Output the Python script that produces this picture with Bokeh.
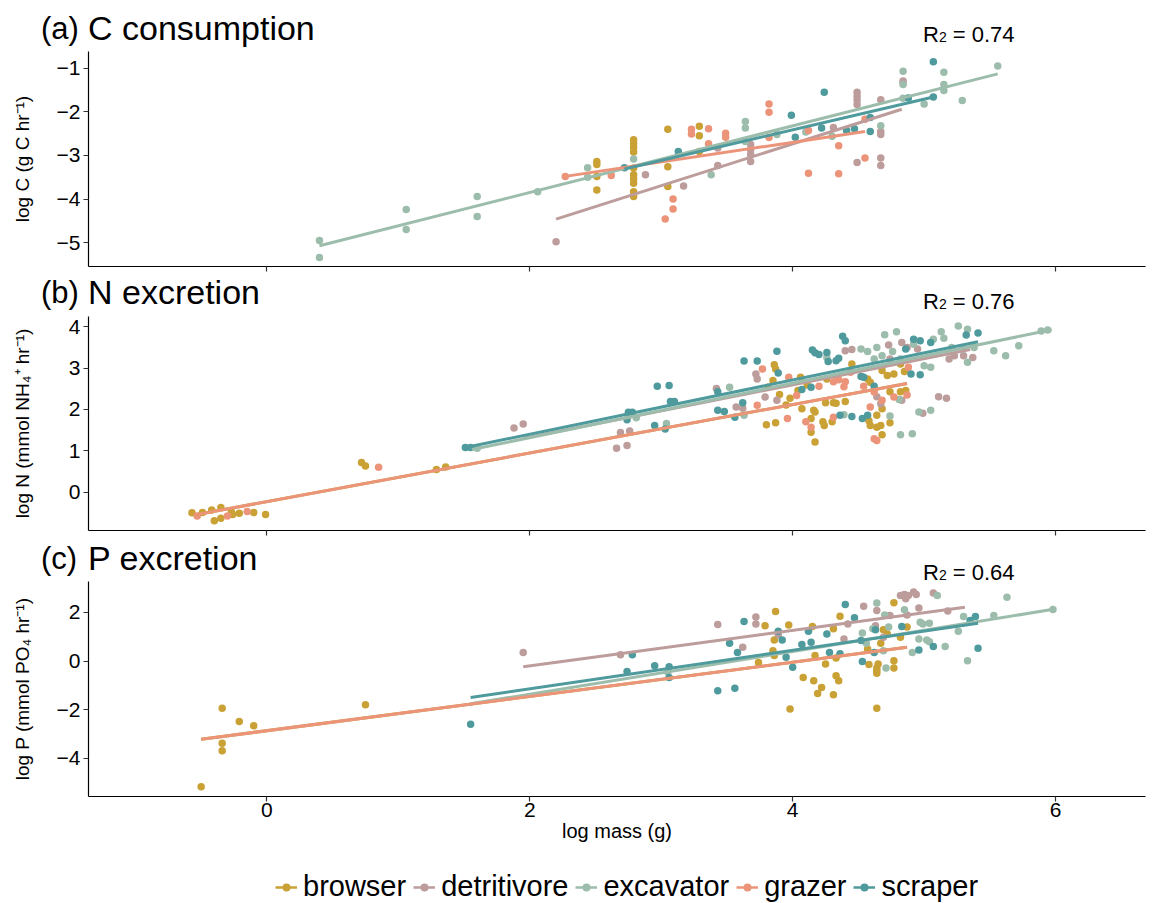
from bokeh.plotting import figure
from bokeh.layouts import column
from bokeh.models import Range1d, Legend, LegendItem, FixedTicker, Div
from bokeh.embed import file_html
from bokeh.resources import INLINE

FONT = "Liberation Sans"

groups = ["browser", "detritivore", "excavator", "grazer", "scraper"]
colors = ["#C9A135", "#BD9C9C", "#9DBDAC", "#EC9479", "#4F9A9D"]

x_ticks = [0, 2, 4, 6]
a_ticks = [-5, -4, -3, -2, -1]
b_ticks = [0, 1, 2, 3, 4]
c_ticks = [-4, -2, 0, 2]

# ---------------- panel (a) C consumption ----------------
a_browser_x = [2.51, 2.51, 2.51, 2.51, 2.79, 2.79, 2.79, 2.79, 2.79, 2.79, 2.79, 2.79, 2.79, 2.79,
               3.05, 3.05, 3.05, 3.29, 3.29, 3.29]
a_browser_y = [-3.14, -3.21, -3.48, -3.79, -2.64, -2.73, -2.82, -2.92, -3.29, -3.44, -3.54, -3.64, -3.83, -3.94,
               -2.40, -3.26, -3.71, -2.33, -2.55, -2.91]
a_detritivore_x = [2.20, 2.88, 3.17, 3.43, 3.43, 3.68, 3.68, 3.68, 3.68, 4.31, 4.49, 4.49, 4.49, 4.49, 4.49,
                   4.67, 4.67, 4.67, 4.67, 4.67, 4.84, 4.84]
a_detritivore_y = [-4.98, -3.44, -3.70, -2.83, -3.23, -2.75, -2.87, -2.98, -3.14, -2.36, -1.55, -1.64, -1.73, -1.83, -3.16,
                   -1.72, -2.45, -2.52, -3.06, -3.23, -1.29, -1.34]
a_excavator_x = [0.40, 0.40, 1.06, 1.06, 1.60, 1.60, 2.06, 2.44, 2.44, 2.79, 3.38, 3.64, 3.64, 3.64, 3.88, 4.10,
                 4.30, 4.67, 4.84, 4.84, 4.84, 5.00, 5.15, 5.15, 5.15, 5.29, 5.56]
a_excavator_y = [-4.95, -5.34, -4.24, -4.70, -3.94, -4.40, -3.83, -3.28, -3.50, -3.08, -3.44, -2.22, -2.37, -2.68, -2.52, -2.46,
                 -2.56, -2.32, -1.07, -1.37, -1.69, -1.82, -1.09, -1.37, -1.51, -1.74, -0.95]
a_grazer_x = [2.27, 2.62, 3.03, 3.09, 3.09, 3.23, 3.23, 3.36, 3.36, 3.49, 3.49, 3.82, 3.82, 3.82, 4.12, 4.12,
              4.35, 4.35, 4.55, 4.55]
a_grazer_y = [-3.48, -3.46, -4.46, -4.00, -4.23, -2.40, -2.51, -2.39, -2.73, -2.49, -2.58, -1.82, -2.01, -2.59, -2.43, -3.41,
              -2.78, -3.42, -2.17, -3.06]
a_scraper_x = [2.72, 3.13, 3.99, 4.02, 4.22, 4.24, 4.41, 4.47, 4.59, 4.59, 4.88, 5.07, 5.07]
a_scraper_y = [-3.28, -2.91, -2.08, -2.58, -2.37, -1.55, -2.43, -2.39, -2.13, -2.45, -1.68, -1.66, -0.85]

# fitted lines: start x, start y, end x, end y (None = no line)
a_line_x0 = [None, 2.20, 0.40, 2.27, 2.72]
a_line_y0 = [None, -4.46, -5.07, -3.48, -3.31]
a_line_x1 = [None, 4.83, 5.56, 4.55, 5.07]
a_line_y1 = [None, -1.94, -1.13, -2.45, -1.66]

# ---------------- panel (b) N excretion ----------------
b_browser_x = [-0.57, -0.49, -0.42, -0.40, -0.35, -0.35, -0.27, -0.26, -0.21, -0.10, -0.01, 0.72, 0.75, 1.29, 1.36,
               3.86, 3.87, 3.85, 3.81, 3.90, 3.98, 3.95, 4.06, 4.11, 4.04, 4.07, 4.16, 4.17, 4.14, 4.14, 4.17,
               4.25, 4.31, 4.33, 4.40, 4.23, 4.24, 4.30, 3.80, 3.87, 4.26, 4.34, 4.45, 4.57, 4.59, 4.68, 4.72,
               4.77, 4.82, 4.85, 4.86, 4.82, 4.74, 4.68, 4.64, 4.58, 4.59, 4.64, 4.68, 4.67, 4.74]
b_browser_y = [-0.50, -0.49, -0.43, -0.69, -0.37, -0.63, -0.47, -0.54, -0.51, -0.49, -0.54, 0.72, 0.63, 0.55, 0.61,
               3.08, 2.98, 2.70, 2.54, 2.36, 2.27, 2.11, 2.78, 2.59, 2.46, 2.02, 1.98, 1.94, 1.78, 1.45, 1.21,
               2.16, 2.16, 2.15, 2.19, 1.70, 1.61, 1.70, 1.63, 1.68, 2.74, 2.80, 3.10, 2.74, 2.66, 2.94, 2.82,
               2.86, 3.10, 2.92, 2.46, 2.43, 2.43, 2.02, 1.86, 1.73, 1.61, 1.57, 1.39, 1.61, 1.68]
b_detritivore_x = [1.88, 1.95, 2.66, 2.74, 2.69, 2.76, 3.42, 3.57, 3.62, 3.72, 3.73, 3.79, 3.88, 4.40, 4.45, 4.73,
                   4.83, 4.87, 4.74, 4.95, 5.19, 5.23, 5.30, 5.37, 5.11, 5.17, 4.64, 4.67, 4.83, 4.99]
b_detritivore_y = [1.55, 1.65, 1.06, 1.13, 1.44, 1.48, 2.51, 2.06, 2.03, 2.86, 2.74, 2.30, 2.22, 3.42, 3.45, 3.56,
                   3.62, 3.50, 3.22, 3.46, 3.22, 3.30, 3.30, 3.26, 2.31, 2.27, 2.31, 2.14, 2.22, 1.91]
b_excavator_x = [1.60, 2.81, 3.04, 3.52, 3.63, 4.26, 4.52, 4.57, 4.64, 4.70, 4.79, 4.62, 4.68, 4.82, 4.76, 4.92,
                 5.07, 5.15, 5.13, 5.26, 5.33, 5.21, 5.30, 5.38, 5.53, 5.33, 4.39, 4.74, 4.82, 4.91, 4.81, 4.96,
                 5.05, 5.00, 5.05, 5.62, 5.72, 5.89, 5.94]
b_excavator_y = [1.06, 1.80, 1.66, 2.54, 1.86, 3.26, 3.46, 3.40, 3.50, 3.81, 3.88, 3.22, 3.30, 3.22, 3.40, 3.58,
                 3.70, 3.72, 3.88, 4.02, 3.94, 3.50, 3.46, 3.50, 3.42, 3.14, 1.87, 1.84, 1.39, 1.41, 2.24, 1.94,
                 1.98, 3.06, 3.02, 3.30, 3.54, 3.90, 3.92]
b_grazer_x = [-0.53, -0.30, -0.15, 0.85, 3.77, 3.73, 3.97, 4.03, 3.96, 4.20, 4.10, 4.14, 4.31, 4.35, 4.40, 4.31,
              4.44, 4.54, 4.59, 4.62, 4.68, 4.62, 4.64, 4.77, 4.88, 4.87, 4.39]
b_grazer_y = [-0.58, -0.58, -0.47, 0.60, 2.98, 2.10, 2.78, 2.34, 1.78, 2.56, 1.70, 1.57, 2.67, 2.72, 2.67, 1.81,
              2.90, 2.56, 2.06, 2.42, 2.22, 1.29, 1.25, 2.30, 3.02, 2.35, 2.55]
b_scraper_x = [1.51, 1.55, 2.75, 2.78, 2.74, 2.97, 3.06, 3.07, 3.10, 2.95, 3.03, 3.43, 3.48, 3.43, 3.56, 3.63,
               3.73, 3.62, 3.88, 3.89, 4.15, 4.17, 4.20, 4.26, 4.27, 4.33, 4.35, 4.38, 4.40, 4.07, 4.14, 4.52,
               4.54, 4.45, 4.36, 4.53, 4.57, 4.92, 4.97, 4.86, 5.05, 4.90, 4.97, 5.32, 5.41, 4.62]
b_scraper_y = [1.08, 1.08, 1.93, 1.93, 1.75, 2.56, 2.58, 2.19, 2.19, 1.61, 1.53, 2.43, 1.95, 1.98, 1.81, 3.17,
               3.17, 2.16, 3.41, 2.88, 3.44, 3.37, 3.33, 3.38, 3.16, 3.18, 3.24, 3.77, 3.66, 2.48, 2.54, 2.80,
               2.78, 1.83, 1.86, 1.78, 1.86, 3.70, 3.66, 3.46, 3.62, 2.86, 2.84, 3.80, 3.85, 2.56]

b_line_x0 = [-0.53, 1.95, 1.56, -0.53, 1.51]
b_line_y0 = [-0.54, 1.30, 1.03, -0.54, 1.08]
b_line_x1 = [4.87, 5.35, 5.97, 4.87, 5.41]
b_line_y1 = [2.63, 3.45, 3.93, 2.63, 3.64]

# ---------------- panel (c) P excretion ----------------
c_browser_x = [-0.50, -0.34, -0.34, -0.34, -0.21, -0.10, 0.75, 3.87, 3.79, 3.97, 3.86, 3.85, 3.86, 3.74, 4.08,
               4.16, 4.22, 4.19, 3.98, 4.15, 4.17, 4.25, 4.31, 4.33, 4.33, 4.35, 4.31, 4.36, 4.58, 4.64,
               4.64, 4.64, 4.65, 4.64, 4.69, 4.72, 4.77, 4.77, 4.77, 4.67, 4.82, 4.87, 4.57]
c_browser_y = [-5.16, -1.93, -3.37, -3.68, -2.48, -2.65, -1.79, 2.04, 1.46, 1.49, 0.87, 0.43, 0.23, -0.05, -0.67,
               -0.80, -1.08, -1.33, -1.97, 1.42, 0.23, -0.12, 1.33, 0.13, -0.60, -0.80, -1.38, 1.85, -0.14, -0.28,
               -0.39, -0.50, -0.12, -1.93, 1.29, 1.12, 2.40, 0.02, -0.28, 0.74, 0.98, 1.40, 0.50]
c_detritivore_x = [1.95, 2.69, 3.43, 3.62, 3.72, 3.72, 3.89, 4.39, 4.42, 4.54, 4.64, 4.63, 4.74, 4.82, 4.85,
                   4.88, 4.86, 4.92, 4.94, 4.96, 4.87, 5.07, 5.18, 4.69]
c_detritivore_y = [0.36, 0.26, 1.51, 0.57, 1.81, 1.53, 1.09, 0.91, 1.53, 2.26, 2.08, 1.46, 1.88, 2.70, 2.74,
                   2.70, 2.56, 2.84, 2.74, 2.19, 1.90, 2.80, 2.06, 0.98]
c_excavator_x = [3.05, 4.53, 4.56, 4.64, 4.61, 4.70, 4.71, 4.69, 4.73, 4.85, 4.91, 4.97, 4.99, 5.04, 4.96, 5.02,
                 5.04, 5.10, 5.16, 5.26, 5.30, 5.33, 5.53, 5.63, 5.98]
c_excavator_y = [-0.45, 1.16, 0.74, 2.39, 1.33, 1.90, -0.28, 0.43, 1.40, 2.11, 0.36, 1.60, 1.53, 1.56, 0.91, 0.87,
                 0.80, 2.70, 0.60, 1.23, 1.84, 0.02, 1.88, 2.63, 2.12]
c_grazer_x = []
c_grazer_y = []
c_scraper_x = [1.55, 2.78, 2.74, 2.95, 3.06, 3.06, 3.43, 3.56, 3.52, 3.58, 3.63, 3.89, 3.92, 4.00, 3.95, 4.07,
               4.14, 4.12, 4.26, 4.28, 4.36, 4.40, 4.47, 4.53, 4.62, 4.63, 4.83, 4.96, 5.07, 5.35, 5.39, 5.41, 4.52]
c_scraper_y = [-2.59, 0.26, -0.42, -0.19, -0.23, -0.67, -1.22, -1.11, 0.74, 0.36, 1.63, 1.23, 0.87, -0.25, 0.16, 0.68,
               0.78, 1.23, 1.12, 0.36, 0.30, 2.33, 1.78, -0.01, 0.36, 1.29, 1.42, 0.46, 0.60, 1.67, 1.84, 0.53, 0.85]

c_line_x0 = [-0.50, 1.95, 1.55, -0.50, 1.55]
c_line_y0 = [-3.21, -0.23, -1.75, -3.21, -1.49]
c_line_x1 = [4.87, 5.31, 5.96, 4.87, 5.41]
c_line_y1 = [0.57, 2.22, 2.11, 0.57, 1.56]

r2_values = ["0.74", "0.76", "0.64"]

X_RANGE = (-1.357, 6.684)
W = 1158


def tick_text(t):
    return str(t) if t >= 0 else "\u2212" + str(-t)


def span(left, base, size, inner):
    top = base - 0.8465 * size
    return (f'<span style="position:absolute;left:{left}px;top:{top:.1f}px;font-size:{size}px;'
            f'line-height:{size}px;white-space:nowrap;">{inner}</span>')


def title_strip(height, tag, title, title_base, r2, r2_base):
    html = (f'<div style="position:relative;width:{W}px;height:{height}px;overflow:visible;'
            f'font-family:\'Liberation Sans\',Arial,sans-serif;color:#000;">'
            + span(41, title_base, 31, tag)
            + span(88, title_base, 34, title)
            + span(923, r2_base, 22, 'R<span style="font-size:14px">2</span> = ' + r2)
            + '</div>')
    return Div(text=html, width=W, height=height, margin=0, styles={"overflow": "visible"})


def make_panel(height, bottom, yrange, yticks, pts, lines, ylab, ylab_standoff, show_x_labels):
    p = figure(width=W, height=height, x_range=Range1d(*X_RANGE), y_range=Range1d(*yrange),
               output_backend="svg", toolbar_location=None,
               min_border_left=88, min_border_right=13, min_border_top=0, min_border_bottom=bottom)
    p.outline_line_color = None
    p.grid.visible = False
    p.background_fill_color = "white"
    p.border_fill_color = None

    for ax in (p.xaxis[0], p.yaxis[0]):
        ax.axis_line_color = "black"
        ax.axis_line_width = 1.2
        ax.major_tick_line_color = "#333333"
        ax.major_tick_line_width = 1.2
        ax.major_tick_out = 5
        ax.major_tick_in = 0
        ax.minor_tick_line_color = None
        ax.major_label_text_font = FONT
        ax.major_label_text_font_size = "21px"
        ax.major_label_text_color = "black"
        ax.major_label_standoff = 3

    p.xaxis.ticker = FixedTicker(ticks=x_ticks)
    p.yaxis.ticker = FixedTicker(ticks=yticks)
    p.yaxis.major_label_overrides = {t: tick_text(t) for t in yticks}
    p.yaxis.axis_label = ylab
    p.yaxis.axis_label_text_font = FONT
    p.yaxis.axis_label_text_font_size = "19px"
    p.yaxis.axis_label_text_font_style = "normal"
    p.yaxis.axis_label_text_color = "black"
    p.yaxis.axis_label_standoff = ylab_standoff

    if show_x_labels:
        p.xaxis.major_label_overrides = {t: tick_text(t) for t in x_ticks}
        p.xaxis.major_label_standoff = 1
        p.xaxis.axis_label = "log mass (g)"
        p.xaxis.axis_label_text_font = FONT
        p.xaxis.axis_label_text_font_size = "20px"
        p.xaxis.axis_label_text_font_style = "normal"
        p.xaxis.axis_label_text_color = "black"
        p.xaxis.axis_label_standoff = 0
    else:
        p.xaxis.major_label_overrides = {t: "" for t in x_ticks}
        p.xaxis.major_label_standoff = 0

    for i, g in enumerate(groups):
        xs, ys = pts[i]
        p.scatter(xs, ys, size=7.5, fill_color=colors[i], line_color=None)
    x0s, y0s, x1s, y1s = lines
    for i, g in enumerate(groups):
        if x0s[i] is None:
            continue
        p.line([x0s[i], x1s[i]], [y0s[i], y1s[i]], line_color=colors[i], line_width=3)
    return p


sa = title_strip(51, "(a)", "C consumption", 39.3, r2_values[0], 42.3)
pa = make_panel(
    232, 17, (-5.547, -0.616), a_ticks,
    [(a_browser_x, a_browser_y), (a_detritivore_x, a_detritivore_y), (a_excavator_x, a_excavator_y),
     (a_grazer_x, a_grazer_y), (a_scraper_x, a_scraper_y)],
    (a_line_x0, a_line_y0, a_line_x1, a_line_y1),
    "log C (g C hr\u207b\u00b9)", 21, False)

sb = title_strip(33, "(b)", "N excretion", 20.3, r2_values[1], 26.5)
pb = make_panel(
    232, 18, (-0.928, 4.249), b_ticks,
    [(b_browser_x, b_browser_y), (b_detritivore_x, b_detritivore_y), (b_excavator_x, b_excavator_y),
     (b_grazer_x, b_grazer_y), (b_scraper_x, b_scraper_y)],
    (b_line_x0, b_line_y0, b_line_x1, b_line_y1),
    "log N (mmol NH\u2084\u207a hr\u207b\u00b9)", 33, False)

sc = title_strip(33, "(c)", "P excretion", 21.3, r2_values[2], 33.0)
pc = make_panel(
    285, 70, (-5.562, 3.274), c_ticks,
    [(c_browser_x, c_browser_y), (c_detritivore_x, c_detritivore_y), (c_excavator_x, c_excavator_y),
     (c_grazer_x, c_grazer_y), (c_scraper_x, c_scraper_y)],
    (c_line_x0, c_line_y0, c_line_x1, c_line_y1),
    "log P (mmol PO\u2084 hr\u207b\u00b9)", 21, True)

# legend strip: key renderers carry panel (b) data but are hidden; only their legend keys show
sl = figure(width=W, height=37, x_range=Range1d(*X_RANGE), y_range=Range1d(-0.928, 4.249),
            x_axis_location=None, y_axis_location=None, min_border=0,
            output_backend="svg", toolbar_location=None)
sl.outline_line_color = None
sl.grid.visible = False
sl.border_fill_color = None
sl.background_fill_color = None
b_pts = [(b_browser_x, b_browser_y), (b_detritivore_x, b_detritivore_y), (b_excavator_x, b_excavator_y),
         (b_grazer_x, b_grazer_y), (b_scraper_x, b_scraper_y)]
items = []
for i, g in enumerate(groups):
    lr = sl.line([b_line_x0[i], b_line_x1[i]], [b_line_y0[i], b_line_y1[i]],
                 line_color=colors[i], line_width=2.5, visible=False)
    sr = sl.scatter(b_pts[i][0], b_pts[i][1], size=7, fill_color=colors[i], line_color=None, visible=False)
    items.append(LegendItem(label=g, renderers=[lr, sr]))
legend = Legend(items=items, orientation="horizontal", location=(187, 0),
                label_text_font=FONT, label_text_font_size="29px", label_text_color="black",
                glyph_width=22, glyph_height=20, label_standoff=6, spacing=7,
                padding=2, margin=0, border_line_color=None, background_fill_alpha=0,
                inactive_fill_alpha=0)
sl.add_layout(legend, "center")

layout = column(sa, pa, sb, pb, sc, pc, sl, spacing=0)
open("out.html", "w").write(file_html(layout, INLINE))
